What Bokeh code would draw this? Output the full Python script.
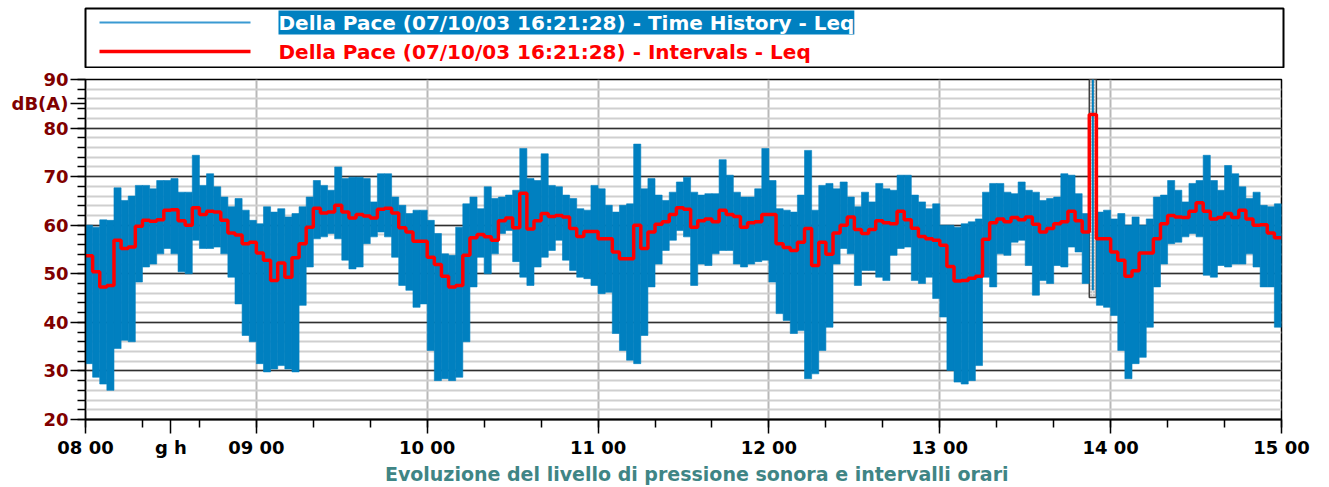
import numpy as np
from bokeh.plotting import figure
from bokeh.layouts import column
from bokeh.models import FixedTicker, Label, Range1d
from bokeh.embed import file_html
from bokeh.resources import INLINE

# ---------------- data ----------------
start_hour = 8.0
end_hour = 15.0
interval_minutes = 2.5

# Leq per 2.5-minute interval (red steps), dB(A)
leq_intervals = [
    53.7, 50.4, 47.3, 47.6, 56.9, 55.2, 55.5, 59.8, 61.0, 60.8, 61.1, 63.1, 63.2, 60.9, 60.0, 63.6, 62.2, 62.9, 62.7, 61.0, 58.4, 58.0, 56.2, 56.5,
    54.3, 52.8, 48.6, 52.2, 49.3, 53.3, 56.2, 59.6, 63.5, 62.5, 62.7, 64.1, 62.7, 61.5, 62.2, 61.9, 61.5, 63.3, 63.5, 62.5, 59.5, 58.6, 56.7, 56.7,
    53.4, 51.9, 49.5, 47.3, 47.6, 53.8, 57.4, 58.1, 57.6, 56.9, 60.9, 61.5, 59.5, 66.6, 59.2, 60.9, 62.4, 61.8, 62.0, 61.7, 59.3, 57.7, 58.7, 58.7,
    57.2, 57.2, 54.5, 53.1, 53.1, 60.0, 55.2, 58.6, 60.2, 60.7, 62.2, 63.6, 63.3, 59.6, 60.9, 61.3, 60.7, 63.1, 62.2, 61.8, 59.6, 60.5, 60.7, 62.2,
    62.2, 56.2, 55.4, 54.8, 56.5, 59.3, 51.7, 56.5, 54.0, 58.4, 60.0, 61.7, 59.1, 58.3, 59.1, 60.9, 60.5, 60.3, 62.9, 61.1, 59.4, 57.7, 57.2, 56.9,
    55.9, 51.5, 48.5, 48.6, 49.1, 49.5, 57.1, 60.5, 61.3, 60.7, 61.6, 61.1, 61.7, 60.2, 58.6, 59.3, 60.3, 60.7, 62.9, 60.9, 58.6, 82.8, 57.2, 57.2,
    54.5, 52.8, 49.5, 50.6, 54.3, 54.3, 57.2, 60.3, 62.0, 61.7, 61.6, 62.9, 64.6, 62.9, 61.3, 61.6, 62.4, 61.6, 63.1, 61.3, 60.0, 60.1, 58.4, 57.4,
]

# Time-history envelope (max / min level within each interval), dB(A)
history_max = [
    60.0, 59.6, 61.1, 61.0, 67.7, 65.1, 66.0, 68.2, 68.2, 67.5, 69.2, 69.2, 69.6, 66.8, 66.8, 74.4, 68.2, 70.6, 67.9, 65.8, 63.8, 65.5, 63.1, 61.0,
    60.3, 63.8, 62.7, 63.4, 61.7, 62.4, 63.8, 65.8, 69.2, 68.2, 67.2, 72.0, 69.6, 69.9, 69.9, 69.6, 64.8, 70.6, 70.6, 65.8, 64.1, 62.4, 63.1, 63.1,
    61.0, 58.3, 54.1, 53.8, 59.6, 64.4, 65.8, 63.4, 67.9, 65.5, 65.8, 66.2, 67.2, 75.8, 69.6, 69.2, 74.7, 68.2, 67.9, 66.2, 65.5, 63.4, 63.1, 68.2,
    67.5, 64.1, 62.7, 64.1, 64.4, 76.7, 67.5, 69.6, 66.2, 65.1, 66.8, 68.9, 69.9, 66.8, 66.2, 66.5, 66.5, 73.5, 70.3, 66.8, 65.8, 65.8, 67.5, 75.8,
    69.2, 63.4, 63.1, 62.7, 66.2, 75.4, 63.1, 68.2, 68.6, 67.5, 68.9, 65.8, 63.8, 66.8, 64.8, 68.6, 67.5, 67.2, 70.3, 70.3, 66.2, 64.8, 63.4, 64.4,
    60.0, 60.0, 59.6, 60.3, 60.7, 61.3, 66.8, 68.6, 68.6, 66.8, 66.5, 68.9, 67.2, 66.8, 65.1, 65.5, 65.8, 70.6, 70.3, 66.5, 62.4, 92.0, 62.7, 63.1,
    61.3, 62.4, 60.0, 61.7, 60.0, 61.3, 65.8, 66.2, 69.2, 67.2, 64.8, 68.6, 69.2, 74.4, 69.2, 67.2, 72.3, 70.6, 67.9, 65.5, 66.8, 64.1, 63.8, 64.4,
]
history_min = [
    31.5, 28.7, 27.3, 26.0, 34.6, 36.3, 36.0, 48.3, 51.4, 52.0, 54.1, 55.2, 54.1, 50.4, 50.0, 56.9, 55.2, 55.2, 55.5, 54.1, 49.3, 43.8, 37.3, 36.0,
    31.5, 29.8, 30.4, 31.1, 30.4, 29.8, 43.5, 51.4, 57.2, 57.6, 58.3, 57.2, 52.8, 51.0, 51.4, 56.2, 57.6, 58.6, 57.6, 53.4, 47.6, 46.6, 43.1, 43.8,
    34.2, 28.0, 28.4, 28.0, 28.7, 36.0, 47.3, 53.4, 50.0, 54.1, 58.3, 58.9, 52.5, 49.3, 47.6, 51.4, 53.4, 54.8, 56.9, 52.8, 50.7, 49.3, 49.0, 47.6,
    45.9, 46.2, 37.7, 34.2, 32.2, 31.5, 37.3, 47.3, 52.0, 54.8, 56.9, 58.9, 57.6, 47.6, 52.0, 51.7, 54.1, 54.8, 54.8, 52.0, 51.4, 52.0, 52.5, 52.8,
    48.3, 41.8, 40.4, 37.7, 38.3, 28.4, 29.4, 34.2, 39.0, 52.0, 55.2, 54.1, 47.6, 50.7, 50.7, 49.3, 48.6, 53.8, 55.2, 55.5, 48.6, 48.0, 49.3, 44.9,
    41.1, 30.1, 27.7, 27.3, 28.0, 31.1, 49.3, 47.3, 54.1, 53.8, 56.5, 56.9, 51.7, 45.6, 48.6, 48.0, 51.7, 51.4, 55.5, 54.5, 48.0, 46.6, 43.5, 43.1,
    41.4, 34.2, 28.4, 31.5, 32.8, 39.0, 47.3, 52.0, 56.2, 56.5, 57.6, 58.3, 57.6, 49.7, 49.3, 51.7, 51.4, 52.0, 52.0, 54.1, 51.4, 47.3, 47.3, 39.0,
]

# excluded (marked) interval
excluded_interval = 141
excluded_bottom = 45.1

hour_ticks = [8, 9, 10, 11, 12, 13, 14, 15]
hour_labels = ["08 00", "09 00", "10 00", "11 00", "12 00", "13 00", "14 00", "15 00"]
db_ticks = [20, 30, 40, 50, 60, 70, 80, 90]

series_names = [
    "Della Pace (07/10/03 16:21:28) - Time History - Leq",
    "Della Pace (07/10/03 16:21:28) - Intervals - Leq",
]
y_unit = "dB(A)"
y_unit_pos = 85
x_unit = "g h"
x_unit_pos = 8.5
x_title = "Evoluzione del livello di pressione sonora e intervalli orari"

# ---------------- derived ----------------
n = len(leq_intervals)
dt = interval_minutes / 60.0
edges = start_hour + np.arange(n + 1) * dt
left = edges[:-1]
right = edges[1:]

FONT = "DejaVu Sans"
BLUE = "#0080c0"
RED = "#ff0000"

# ---------------- legend box (top) ----------------
lg = figure(frame_width=1198, frame_height=59, x_range=Range1d(85, 1283), y_range=Range1d(67, 8),
            toolbar_location=None, output_backend="svg",
            x_axis_location=None, y_axis_location=None,
            min_border_left=85, min_border_right=46, min_border_top=8, min_border_bottom=1)
lg.xgrid.visible = False
lg.ygrid.visible = False
lg.outline_line_color = "black"
lg.outline_line_width = 2
lg.line([99, 250], [22, 22], line_color="#3a9ad2", line_width=2)
lg.line([99, 250], [51, 51], line_color=RED, line_width=3.5)
lg.add_layout(Label(x=278, y=22, text=series_names[0], text_color="white",
                    background_fill_color=BLUE, text_font=FONT, text_font_style="bold",
                    text_font_size="20px", text_baseline="middle", text_align="left"))
lg.add_layout(Label(x=278, y=51, text=series_names[1], text_color=RED,
                    text_font=FONT, text_font_style="bold",
                    text_font_size="20px", text_baseline="middle", text_align="left"))

# ---------------- main plot ----------------
p = figure(frame_width=1196, frame_height=340,
           x_range=Range1d(start_hour, end_hour), y_range=Range1d(20, 90),
           toolbar_location=None, output_backend="svg",
           min_border_left=85, min_border_right=48, min_border_top=11, min_border_bottom=66)
p.outline_line_color = "black"
p.outline_line_width = 1.5

p.ygrid.ticker = FixedTicker(ticks=db_ticks, minor_ticks=list(range(20, 91, 2)))
p.ygrid.grid_line_color = "#303030"
p.ygrid.grid_line_width = 1.5
p.ygrid.minor_grid_line_color = "#cfcfcf"
p.ygrid.minor_grid_line_width = 2
p.xgrid.ticker = FixedTicker(ticks=hour_ticks[1:-1])
p.xgrid.grid_line_color = "#b8b8b8"
p.xgrid.grid_line_width = 2

# marked interval box
p.quad(left=[left[excluded_interval]], right=[right[excluded_interval]],
       bottom=[excluded_bottom], top=[90], fill_color="#e4e4e4",
       hatch_pattern="dot", hatch_color="#9a9a9a", hatch_scale=3,
       line_color="#404040", line_width=1.5)

mask = np.ones(n, dtype=bool)
mask[excluded_interval] = False
hmax = np.array(history_max)
hmin = np.array(history_min)
p.quad(left=left[mask], right=right[mask], bottom=hmin[mask], top=hmax[mask],
       fill_color=BLUE, line_color=BLUE, line_width=0.6)
mid = (left[excluded_interval] + right[excluded_interval]) / 2
p.segment(x0=[mid], x1=[mid], y0=[hmin[excluded_interval]], y1=[hmax[excluded_interval]],
          line_color=BLUE, line_width=2)

step_y = list(leq_intervals) + [leq_intervals[-1]]
p.step(edges, step_y, mode="after", line_color=RED, line_width=3.5)

# axes
ya = p.yaxis[0]
ya.ticker = FixedTicker(ticks=db_ticks + [y_unit_pos], minor_ticks=list(range(20, 91, 2)))
ya.major_label_overrides = {y_unit_pos: y_unit}
ya.major_label_text_color = "#800000"
ya.major_label_text_font = FONT
ya.major_label_text_font_style = "bold"
ya.major_label_text_font_size = "18px"
ya.major_label_standoff = 2
ya.major_tick_out = 15
ya.major_tick_in = 0
ya.minor_tick_out = 8
ya.minor_tick_in = 0
ya.axis_line_width = 1.5
ya.major_tick_line_width = 1.5
ya.minor_tick_line_width = 1.5

xa = p.xaxis[0]
xa.ticker = FixedTicker(ticks=hour_ticks + [x_unit_pos],
                        minor_ticks=[start_hour + k / 3.0 for k in range(22)])
overrides = {t: l for t, l in zip(hour_ticks, hour_labels)}
overrides[x_unit_pos] = x_unit
xa.major_label_overrides = overrides
xa.major_label_text_color = "black"
xa.major_label_text_font = FONT
xa.major_label_text_font_style = "bold"
xa.major_label_text_font_size = "18px"
xa.major_label_standoff = 3
xa.major_tick_out = 14
xa.major_tick_in = 0
xa.minor_tick_out = 8
xa.minor_tick_in = 0
xa.axis_line_width = 2
xa.major_tick_line_width = 1.5
xa.minor_tick_line_width = 1.5
xa.axis_label = "\u00a0" * 4 + x_title
xa.axis_label_text_color = "#3f8585"
xa.axis_label_text_font = FONT
xa.axis_label_text_font_style = "bold"
xa.axis_label_text_font_size = "19px"
xa.axis_label_standoff = 2

layout = column(lg, p, spacing=0)
open("out.html", "w").write(file_html(layout, INLINE))
